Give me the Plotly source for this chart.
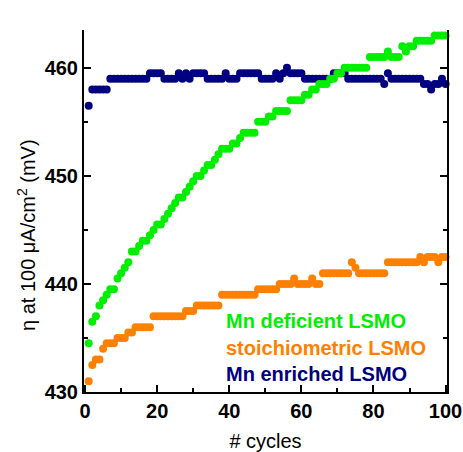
import plotly.graph_objects as go

cycles = list(range(1, 101))

mn_deficient = [
    434.5, 436.5, 437, 438, 438.5, 439, 439.5, 439.5, 440.5, 441,
    441.5, 442, 443, 443, 443.5, 444, 444, 444.5, 445, 445.5,
    445.5, 446, 446.5, 447, 447.5, 448, 448, 448.5, 449, 449.5,
    450, 450, 450.5, 451, 451, 451.5, 452, 452.5, 452.5, 452.5,
    453, 453, 453.5, 454, 454, 454, 454, 455, 455, 455,
    455.5, 455.5, 456, 456, 456, 456, 457, 457, 457, 457,
    457.5, 457.5, 458, 458, 458.5, 458.5, 458.5, 459, 459, 459.5,
    459.5, 460, 460, 460, 460, 460, 460, 460, 461, 461,
    461, 461, 461, 461.5, 461, 461, 461, 462, 461.5, 462,
    462, 462.5, 462.5, 462.5, 462.5, 462.5, 463, 463, 463, 463,
]

stoichiometric = [
    431, 432.5, 433, 433, 434, 434.5, 434.5, 434.5, 435, 435,
    435, 435.5, 435.5, 436, 436, 436, 436, 436, 437, 437,
    437, 437, 437, 437, 437, 437, 437, 437.5, 437.5, 437.5,
    438, 438, 438, 438, 438, 438, 438, 439, 439, 439,
    439, 439, 439, 439, 439, 439, 439, 439.5, 439.5, 439.5,
    439.5, 439.5, 439.5, 440, 440, 440, 440, 440.5, 440, 440,
    440, 440, 440.5, 440, 440, 441, 441, 441, 441, 441,
    441, 441, 441, 442, 441.5, 441, 441, 441, 441, 441,
    441, 441, 441, 442, 442, 442, 442, 442, 442, 442,
    442, 442, 442.5, 442, 442.5, 442.5, 442.5, 442, 442.5, 442.5,
]

mn_enriched = [
    456.5, 458, 458, 458, 458, 458, 459, 459, 459, 459,
    459, 459, 459, 459, 459, 459, 459, 459.5, 459.5, 459.5,
    459.5, 459, 459, 459, 459, 459.5, 459, 459.5, 459, 459.5,
    459.5, 459.5, 459.5, 459, 459, 459, 459, 459, 459.5, 459,
    459, 459, 459.5, 459.5, 459.5, 459.5, 459.5, 459.5, 459, 459,
    459, 459, 459.5, 459, 459.5, 460, 459.5, 459.5, 459.5, 459.5,
    459, 459, 459, 459, 459, 459, 459, 459, 459.5, 459.5,
    459.5, 459.5, 459, 459, 459, 459, 459, 459, 459, 459,
    459, 459, 458.5, 459.5, 459, 459, 459, 459, 459, 459,
    459, 459, 459, 458.5, 458.5, 458, 458.5, 458.5, 459, 458.5,
]

series_names = ["Mn deficient LSMO", "stoichiometric LSMO", "Mn enriched LSMO"]
colors = ["#00ee00", "#ff8000", "#000080"]

x_tickvals = [0, 20, 40, 60, 80, 100]
y_tickvals = [430, 440, 450, 460]

fig = go.Figure()
for name, vals, col in [
    (series_names[2], mn_enriched, colors[2]),
    (series_names[0], mn_deficient, colors[0]),
    (series_names[1], stoichiometric, colors[1]),
]:
    fig.add_trace(go.Scatter(
        x=cycles, y=vals, mode="markers", name=name,
        marker=dict(color=col, size=8, line=dict(width=0)),
        showlegend=False, cliponaxis=False,
    ))

FONT = "Liberation Sans, Arial, sans-serif"

L, R, T, B = 84, 16, 30, 60
W, H = 463, 452
pw = W - L - R
ph = H - T - B


def px(xp):
    return (xp - L) / pw


def py(yp):
    return 1 - (yp - T) / ph


# legend text as annotations
for i, (name, col) in enumerate(zip(series_names, colors)):
    fig.add_annotation(
        x=px(224), y=py(321 + i * 26.5), xref="paper", yref="paper",
        text=name, showarrow=False, xanchor="left", yanchor="middle",
        font=dict(family=FONT, size=20, color=col, weight="bold"),
    )

# y-axis title
fig.add_annotation(
    x=px(26), y=py(235), xref="paper", yref="paper",
    text="η at 100 μA/cm<sup>2</sup> (mV)", textangle=-90, showarrow=False,
    xanchor="center", yanchor="middle",
    font=dict(family=FONT, size=20, color="black"),
)

axis_common = dict(
    showline=True, linecolor="black", linewidth=2,
    ticks="inside", ticklen=7, tickwidth=2, tickcolor="black",
    showgrid=False, zeroline=False, automargin=False,
    tickfont=dict(family=FONT, size=20, color="black", weight="bold"),
)

fig.update_layout(
    width=W, height=H,
    margin=dict(l=L, r=R, t=T, b=B),
    plot_bgcolor="white", paper_bgcolor="white",
    font=dict(family=FONT, color="black"),
    xaxis=dict(
        range=[-0.3, 100.4], tickvals=x_tickvals, mirror=False,
        minor=dict(dtick=10, tick0=0, ticks="inside", ticklen=4, tickwidth=2, tickcolor="black"),
        title=dict(text="# cycles", font=dict(family=FONT, size=20), standoff=14),
        **axis_common,
    ),
    yaxis=dict(
        range=[430, 463.5], tickvals=y_tickvals, mirror="ticks",
        minor=dict(dtick=5, tick0=430, ticks="inside", ticklen=4, tickwidth=2, tickcolor="black"),
        **axis_common,
    ),
)

fig.write_html(
    "out.html",
    config={"displayModeBar": False},
    post_script="document.body.style.margin='0';",
)
